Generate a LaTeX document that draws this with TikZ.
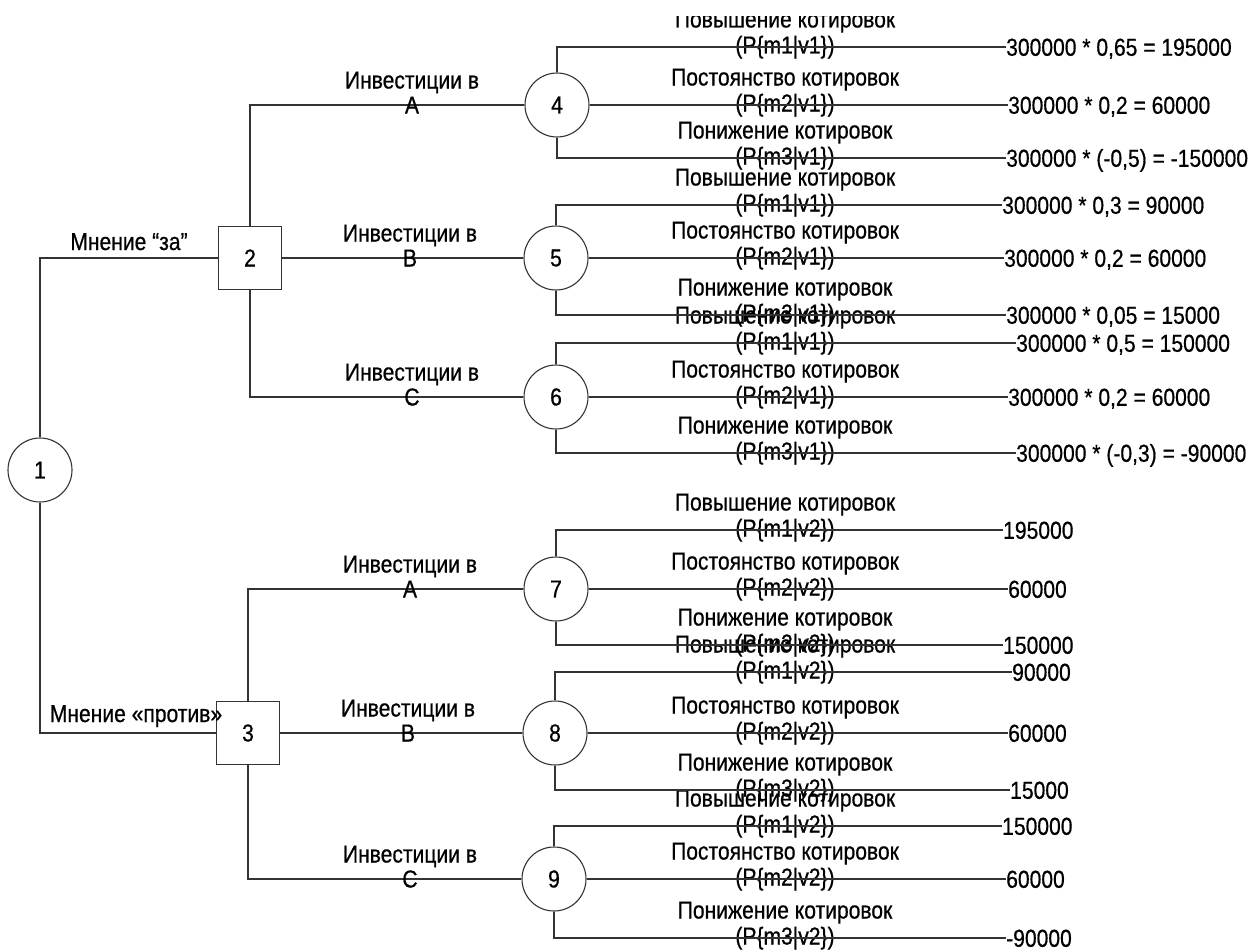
\documentclass[tikz,border=0pt]{standalone}
\usepackage{fontspec}
\setmainfont{Liberation Sans}[FakeStretch=0.86,FakeBold=0.6]
\usetikzlibrary{calc}
\newcommand\mybranch[6]{%
  \node[val] (v#2) at (#6) {#5};
  \node[prob] (p#2) at (785,#3+6.5) {#4};
  \node[ttl] (t#2) at (785,#3+6.5-26) {#1};
}
\begin{document}
\begin{tikzpicture}[x=1pt,y=-1pt,
  every node/.style={font=\fontsize{24.5}{26}\selectfont, text=black},
  ln/.style={line width=1.1pt, black!80},
  chance/.style={circle, draw=black!80, line width=1.1pt, minimum size=64pt, inner sep=0pt},
  dec/.style={rectangle, draw=black!80, line width=1.1pt, minimum size=63pt, inner sep=0pt},
  val/.style={anchor=west, inner sep=0pt, text height=17.5pt, text depth=0pt},
  prob/.style={anchor=base, inner sep=0pt},
  ttl/.style={anchor=base, inner sep=0pt}
]
\useasboundingbox (0,0) rectangle (1252,950);
\clip (0,17) rectangle (1252,950);

% decision nodes
\node[chance] (n1) at (40,470) {1};
\node[dec] (n2) at (250,258) {2};
\node[dec] (n3) at (248,733) {3};
\draw[ln] (n1.north) |- (n2.west);
\draw[ln] (n1.south) |- (n3.west);
\node[ttl] (l12) at (129,250) {Мнение “за”};
\node[ttl] (l13) at (136,722) {Мнение «против»};

% chance nodes
\node[chance] (c4) at (557,105) {4};
\node[chance] (c5) at (556,258) {5};
\node[chance] (c6) at (556,397) {6};
\node[chance] (c7) at (556,589) {7};
\node[chance] (c8) at (555,733) {8};
\node[chance] (c9) at (554,879) {9};

\draw[ln] (n2.north) |- (c4.west);
\draw[ln] (n2.east) -- (c5.west);
\draw[ln] (n2.south) |- (c6.west);
\draw[ln] (n3.north) |- (c7.west);
\draw[ln] (n3.east) -- (c8.west);
\draw[ln] (n3.south) |- (c9.west);

% investment labels
\foreach \nm/\y/\L/\xx in {i4/105/A/412, i5/258/B/410, i6/397/C/412, i7/589/A/410, i8/733/B/408, i9/879/C/410}{
  \node[ttl] (\nm b) at (\xx,\y+8.5) {\L};
  \node[ttl] (\nm a) at (\xx,\y+8.5-25) {Инвестиции в};
}

% branches of 4
\mybranch{Повышение котировок}{41}{47}{(P\{m1|v1\})}{300000 * 0,65 = 195000}{1006,47}
\mybranch{Постоянство котировок}{42}{105}{(P\{m2|v1\})}{300000 * 0,2 = 60000}{1008,105}
\mybranch{Понижение котировок}{43}{158}{(P\{m3|v1\})}{300000 * (-0,5) = -150000}{1006,158}
% branches of 5
\mybranch{Повышение котировок}{51}{205}{(P\{m1|v1\})}{300000 * 0,3 = 90000}{1002,205}
\mybranch{Постоянство котировок}{52}{258}{(P\{m2|v1\})}{300000 * 0,2 = 60000}{1004,258}
\mybranch{Понижение котировок}{53}{315}{(P\{m3|v1\})}{300000 * 0,05 = 15000}{1006,315}
% branches of 6
\mybranch{Повышение котировок}{61}{343}{(P\{m1|v1\})}{300000 * 0,5 = 150000}{1016,343}
\mybranch{Постоянство котировок}{62}{397}{(P\{m2|v1\})}{300000 * 0,2 = 60000}{1008,397}
\mybranch{Понижение котировок}{63}{453}{(P\{m3|v1\})}{300000 * (-0,3) = -90000}{1016,453}
% branches of 7
\mybranch{Повышение котировок}{71}{530}{(P\{m1|v2\})}{195000}{1003,530}
\mybranch{Постоянство котировок}{72}{589}{(P\{m2|v2\})}{60000}{1008,589}
\mybranch{Понижение котировок}{73}{645}{(P\{m3|v2\})}{150000}{1003,645}
% branches of 8
\mybranch{Повышение котировок}{81}{672}{(P\{m1|v2\})}{90000}{1012,672}
\mybranch{Постоянство котировок}{82}{733}{(P\{m2|v2\})}{60000}{1008,733}
\mybranch{Понижение котировок}{83}{790}{(P\{m3|v2\})}{15000}{1010,790}
% branches of 9
\mybranch{Повышение котировок}{91}{826}{(P\{m1|v2\})}{150000}{1002,826}
\mybranch{Постоянство котировок}{92}{879}{(P\{m2|v2\})}{60000}{1006,879}
\mybranch{Понижение котировок}{93}{938}{(P\{m3|v2\})}{-90000}{1006,938}

\foreach \c in {4,5,6,7,8,9}{
  \draw[ln] (c\c.north) |- (v\c1.west);
  \draw[ln] (c\c.east) -- (v\c2.west);
  \draw[ln] (c\c.south) |- (v\c3.west);
}
\end{tikzpicture}
\end{document}
